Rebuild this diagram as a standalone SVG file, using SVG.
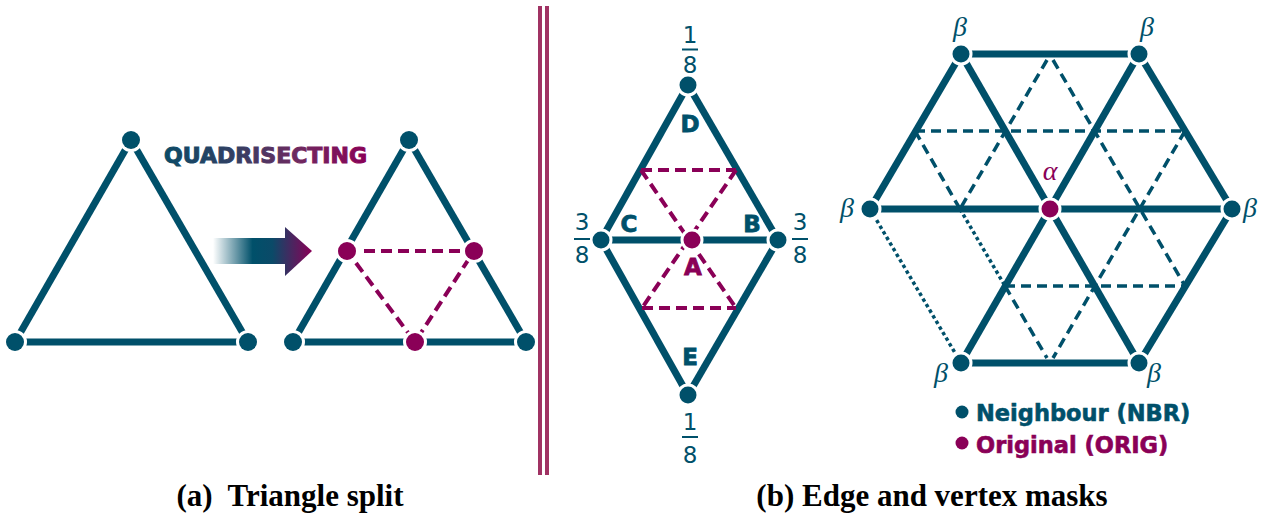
<svg xmlns="http://www.w3.org/2000/svg" width="1264" height="517" viewBox="0 0 1264 517">
<defs>
<style>
.edge{stroke:#00506a;stroke-width:7;fill:none;stroke-linecap:butt}
.dashM{stroke:#8a0057;stroke-width:4;stroke-dasharray:11 6;fill:none}
.dashT{stroke:#00506a;stroke-width:3.5;stroke-dasharray:10 6;fill:none}
.dotT{stroke:#00506a;stroke-width:3.5;stroke-dasharray:3.5 3;fill:none}
.nT{fill:#00506a;stroke:#fff;stroke-width:6;paint-order:stroke}
.nM{fill:#8a0057;stroke:#fff;stroke-width:6;paint-order:stroke}
.lbl{font-family:"DejaVu Sans",sans-serif;font-weight:bold;font-size:23px;fill:#00506a;stroke:#00506a;stroke-width:0.8;text-anchor:middle}
.frac{font-family:"DejaVu Sans",sans-serif;font-size:23px;fill:#00506a;text-anchor:middle}
.bar{stroke:#00506a;stroke-width:2}
.greek{font-family:"Liberation Serif","DejaVu Serif",serif;font-style:italic;font-size:28px;fill:#00506a;text-anchor:middle}
.leg{font-family:"DejaVu Sans",sans-serif;font-weight:bold;font-size:22.5px;stroke-width:0.6}
.cap{font-family:"Liberation Serif","Times New Roman",serif;font-weight:bold;font-size:31px;fill:#000;text-anchor:middle}
</style>
<linearGradient id="gArrow" x1="213" y1="0" x2="312" y2="0" gradientUnits="userSpaceOnUse">
<stop offset="0" stop-color="#00506a" stop-opacity="0"/>
<stop offset="0.4" stop-color="#00506a"/>
<stop offset="0.6" stop-color="#0b4a68"/>
<stop offset="1" stop-color="#8a0057"/>
</linearGradient>
<linearGradient id="gText" x1="163" y1="0" x2="368" y2="0" gradientUnits="userSpaceOnUse">
<stop offset="0" stop-color="#0b4a66"/>
<stop offset="0.35" stop-color="#333f63"/>
<stop offset="0.65" stop-color="#6e2a60"/>
<stop offset="1" stop-color="#8a0057"/>
</linearGradient>
</defs>
<rect width="1264" height="517" fill="#fff"/>

<g id="separator">
<line x1="540" y1="6" x2="540" y2="475" stroke="#a03263" stroke-width="4"/>
<line x1="547" y1="6" x2="547" y2="475" stroke="#a03263" stroke-width="4"/>
</g>

<g id="connectors">
<line class="edge" x1="131" y1="140" x2="15" y2="342"/>
<line class="edge" x1="131" y1="140" x2="248" y2="342"/>
<line class="edge" x1="15" y1="342" x2="248" y2="342"/>
<line class="edge" x1="409" y1="140" x2="293" y2="342"/>
<line class="edge" x1="409" y1="140" x2="526" y2="342"/>
<line class="edge" x1="293" y1="342" x2="526" y2="342"/>
<polygon class="dashM" points="347,251 474,251 415,342"/>

<line class="edge" x1="688" y1="85" x2="601" y2="240"/>
<line class="edge" x1="688" y1="85" x2="778" y2="240"/>
<line class="edge" x1="601" y1="240" x2="688" y2="395"/>
<line class="edge" x1="778" y1="240" x2="688" y2="395"/>
<line class="edge" x1="601" y1="240" x2="778" y2="240"/>
<line class="dashM" x1="641" y1="170" x2="736" y2="170"/>
<line class="dashM" x1="642" y1="308" x2="736" y2="308"/>
<line class="dashM" x1="641" y1="170" x2="736" y2="308"/>
<line class="dashM" x1="736" y1="170" x2="642" y2="308"/>

<line class="dashT" x1="915" y1="131" x2="1185" y2="131"/>
<line class="dashT" x1="1005" y1="286" x2="1185" y2="286"/>
<line class="dashT" x1="1047" y1="60" x2="960" y2="209"/>
<line class="dashT" x1="1053" y1="60" x2="1185" y2="286"/>
<line class="dashT" x1="915" y1="131" x2="960" y2="209"/>
<line class="dotT" x1="960" y1="209" x2="1005" y2="286"/>
<line class="dashT" x1="1005" y1="286" x2="1047" y2="358"/>
<line class="dashT" x1="1185" y1="131" x2="1053" y2="358"/>
<line class="dotT" x1="870" y1="209" x2="961" y2="363"/>
<line class="edge" x1="961" y1="54" x2="1139" y2="54"/>
<line class="edge" x1="961" y1="363" x2="1139" y2="363"/>
<line class="edge" x1="870" y1="209" x2="961" y2="54"/>
<line class="edge" x1="1139" y1="54" x2="1232" y2="209"/>
<line class="edge" x1="1232" y1="209" x2="1139" y2="363"/>
<line class="edge" x1="961" y1="54" x2="1139" y2="363"/>
<line class="edge" x1="1139" y1="54" x2="961" y2="363"/>
<line class="edge" x1="870" y1="209" x2="1232" y2="209"/>
</g>

<g id="tri-left-top"><circle class="nT" cx="131" cy="140" r="9"/></g>
<g id="tri-left-bl"><circle class="nT" cx="15" cy="342" r="9"/></g>
<g id="tri-left-br"><circle class="nT" cx="248" cy="342" r="9"/></g>
<g id="tri-right-top"><circle class="nT" cx="409" cy="140" r="9"/></g>
<g id="tri-right-bl"><circle class="nT" cx="293" cy="342" r="9"/></g>
<g id="tri-right-br"><circle class="nT" cx="526" cy="342" r="9"/></g>
<g id="mid-left"><circle class="nM" cx="347" cy="251" r="9"/></g>
<g id="mid-right"><circle class="nM" cx="474" cy="251" r="9"/></g>
<g id="mid-bottom"><circle class="nM" cx="415" cy="342" r="9"/></g>

<g id="arrow">
<rect x="213" y="238" width="73" height="26" fill="url(#gArrow)"/>
<polygon points="285,227 312,251 285,276" fill="url(#gArrow)"/>
</g>
<g id="quadrisecting">
<text x="164" y="163" textLength="203" lengthAdjust="spacingAndGlyphs" style="font-family:'DejaVu Sans',sans-serif;font-weight:bold;font-size:21.5px;stroke:url(#gText);stroke-width:1" fill="url(#gText)">QUADRISECTING</text>
</g>

<g id="node-D"><circle class="nT" cx="688" cy="85" r="8.5"/>
<text class="lbl" x="690" y="132">D</text>
<text class="frac" x="690" y="43">1</text><line class="bar" x1="682" y1="49.5" x2="698" y2="49.5"/><text class="frac" x="690" y="73">8</text></g>
<g id="node-E"><circle class="nT" cx="688" cy="395" r="8.5"/>
<text class="lbl" x="690" y="365">E</text>
<text class="frac" x="690" y="430">1</text><line class="bar" x1="682" y1="437" x2="698" y2="437"/><text class="frac" x="690" y="463">8</text></g>
<g id="node-C"><circle class="nT" cx="601" cy="240" r="8.5"/>
<text class="lbl" x="629" y="232">C</text>
<text class="frac" x="582" y="230">3</text><line class="bar" x1="574" y1="239" x2="590" y2="239"/><text class="frac" x="582" y="263">8</text></g>
<g id="node-B"><circle class="nT" cx="778" cy="240" r="8.5"/>
<text class="lbl" x="752" y="232">B</text>
<text class="frac" x="800" y="230">3</text><line class="bar" x1="792" y1="239" x2="808" y2="239"/><text class="frac" x="800" y="263">8</text></g>
<g id="node-A"><circle class="nM" cx="692" cy="240" r="8.5"/>
<text class="lbl" x="693" y="275" style="fill:#8a0057;stroke:#8a0057">A</text></g>

<g id="hex-tl"><circle class="nT" cx="961" cy="54" r="8.5"/><text class="greek" x="960" y="36">β</text></g>
<g id="hex-tr"><circle class="nT" cx="1139" cy="54" r="8.5"/><text class="greek" x="1147" y="36">β</text></g>
<g id="hex-l"><circle class="nT" cx="870" cy="209" r="8.5"/><text class="greek" x="847" y="217">β</text></g>
<g id="hex-r"><circle class="nT" cx="1232" cy="209" r="8.5"/><text class="greek" x="1250" y="217">β</text></g>
<g id="hex-bl"><circle class="nT" cx="961" cy="363" r="8.5"/><text class="greek" x="941" y="382">β</text></g>
<g id="hex-br"><circle class="nT" cx="1139" cy="363" r="8.5"/><text class="greek" x="1154" y="382">β</text></g>
<g id="hex-center"><circle class="nM" cx="1050" cy="209" r="8.5"/><text class="greek" x="1050" y="180" style="fill:#8a0057">α</text></g>

<g id="legend">
<circle cx="962" cy="412" r="6.5" fill="#00506a"/>
<text class="leg" x="976" y="421" fill="#00506a" stroke="#00506a">Neighbour (NBR)</text>
<circle cx="962" cy="443" r="6.5" fill="#8a0057"/>
<text class="leg" x="976" y="453" fill="#8a0057" stroke="#8a0057">Original (ORIG)</text>
</g>

<g id="captions">
<text class="cap" x="290" y="506" xml:space="preserve">(a)  Triangle split</text>
<text class="cap" x="932" y="506">(b) Edge and vertex masks</text>
</g>
</svg>
